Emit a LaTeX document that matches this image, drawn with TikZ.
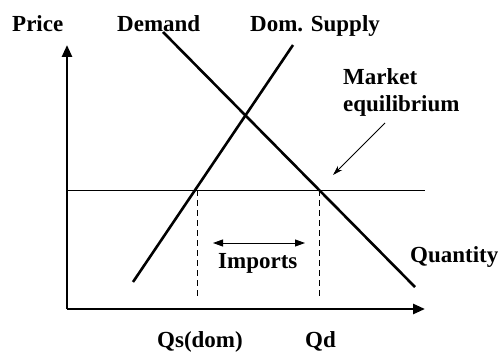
\documentclass[tikz,border=0pt]{standalone}
\usepackage{fontspec}
\setmainfont{Liberation Serif}
\usetikzlibrary{arrows.meta,calc}

\begin{document}
\begin{tikzpicture}[x=1pt, y=1pt,
    every node/.style={font=\fontsize{23}{29}\selectfont\bfseries, inner sep=0pt},
    axis/.style={line width=2.6pt, -{Triangle[length=12pt, width=10pt]}},
    curve/.style={line width=2.6pt},
    thinline/.style={line width=0.9pt}]
    \useasboundingbox (0,0) rectangle (500,354);

    % axes
    \coordinate (O) at (67,45);
    \coordinate (ytop) at (67,309);
    \coordinate (xend) at (425,45);
    \draw[axis] (O) -- (ytop);
    \draw[axis] (O) -- (xend);

    % world price line
    \coordinate (pw0) at (67,164);
    \coordinate (pw1) at (425,164);
    \draw[thinline] (pw0) -- (pw1);

    % demand and domestic supply
    \coordinate (d0) at (163,322);
    \coordinate (d1) at (415,67);
    \coordinate (s0) at (133,72);
    \coordinate (s1) at (293,309);
    \draw[curve] (d0) -- (d1);
    \draw[curve] (s0) -- (s1);

    % quantities at world price
    \coordinate (qs) at (197,164);
    \coordinate (qd) at (319,164);
    \draw[thinline, dashed, dash pattern=on 6pt off 4pt] (qs) -- (qs |- 0,58);
    \draw[thinline, dashed, dash pattern=on 6pt off 4pt] (qd) -- (qd |- 0,58);

    % imports
    \coordinate (im0) at (213,111);
    \coordinate (im1) at (305,111);
    \draw[thinline, {Triangle[length=10pt, width=7pt]}-{Triangle[length=10pt, width=7pt]}] (im0) -- (im1);
    \node[anchor=base west] (imp) at (218,86) {Imports};

    % labels
    \node[anchor=base west] (price) at (12,322) {Price};
    \node[anchor=base west] (dem) at (117,322) {Demand};
    \node[anchor=base west] (sup) at (250,322) {Dom. Supply};
    \node[anchor=base west] (qty) at (410,92) {Quantity};
    \node[anchor=base west] (qsl) at (157,7) {Qs(dom)};
    \node[anchor=base west] (qdl) at (305,7) {Qd};
    \node[anchor=base west] (mkt) at (343,269) {Market};
    \node[anchor=base west] (eq) at (343,242) {equilibrium};

    % pointer to equilibrium
    \coordinate (ptr0) at (385,231);
    \coordinate (ptr1) at (333,179);
    \draw[thinline, -{Stealth[length=10pt, width=6pt]}] (ptr0) -- (ptr1);
  \end{tikzpicture}
\end{document}
